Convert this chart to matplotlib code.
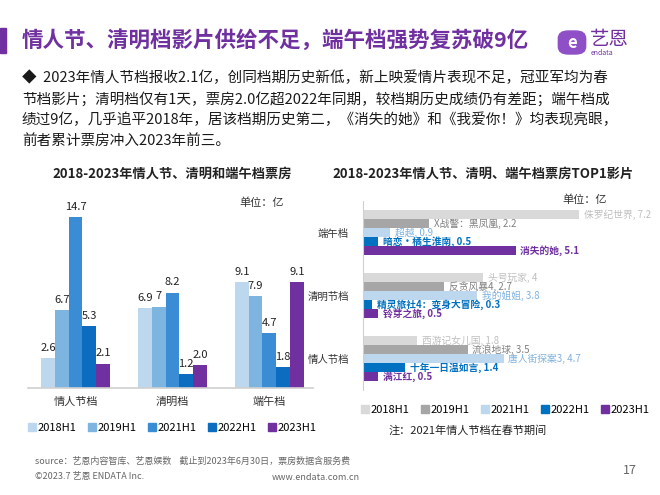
# 情人节、清明、端午档票房对比页
import matplotlib
matplotlib.use("Agg")
import matplotlib.pyplot as plt
from matplotlib.lines import Line2D
from matplotlib.patches import FancyBboxPatch, Rectangle
import numpy as np

plt.rcParams['font.family'] = ['Noto Sans CJK SC', 'DejaVu Sans']

# ---- data ----
years = ["2018H1", "2019H1", "2021H1", "2022H1", "2023H1"]
seasons = ["情人节档", "清明档", "端午档"]
box_2018 = [2.6, 6.9, 9.1]
box_2019 = [6.7, 7.0, 7.9]
box_2021 = [14.7, 8.2, 4.7]
box_2022 = [5.3, 1.2, 1.8]
box_2023 = [2.1, 2.0, 9.1]

top_seasons = ["情人节档", "清明节档", "端午档"]
films_2018 = ["西游记女儿国", "头号玩家", "侏罗纪世界"]
top_2018 = [1.8, 4, 7.2]
films_2019 = ["流浪地球", "反贪风暴4", "X战警：黑凤凰"]
top_2019 = [3.5, 2.7, 2.2]
films_2021 = ["唐人街探案3", "我的姐姐", "超越"]
top_2021 = [4.7, 3.8, 0.9]
films_2022 = ["十年一日温如言", "精灵旅社4：变身大冒险", "暗恋·橘生淮南"]
top_2022 = [1.4, 0.3, 0.5]
films_2023 = ["满江红", "铃芽之旅", "消失的她"]
top_2023 = [0.5, 0.5, 5.1]

PURPLE = "#7030A0"
left_colors = ["#BDD7EE", "#7DB4E0", "#3A8DD4", "#0B6CC0", PURPLE]
right_colors = ["#D9D9D9", "#A6A6A6", "#BDD7EE", "#0070C0", PURPLE]
right_text_colors = ["#BFBFBF", "#808080", "#7FB2E0", "#0070C0", PURPLE]


def fx(px):
    return px / 660


def fy(py):
    return 1 - py / 495


fig = plt.figure(figsize=(6.6, 4.95), dpi=100)

# ---- header ----
fig.patches.append(Rectangle((0, fy(53)), fx(6), 25 / 495, color=PURPLE,
                             transform=fig.transFigure))
fig.text(fx(22), fy(40), "情人节、清明档影片供给不足，端午档强势复苏破9亿",
         fontsize=15.5, fontweight="bold", color=PURPLE, va="center")

# logo
fig.patches.append(FancyBboxPatch((fx(561), fy(52)), fx(22), 19 / 495,
                                  boxstyle="round,pad=0.004,rounding_size=0.015",
                                  color="#8E4FC7", transform=fig.transFigure))
fig.text(fx(572), fy(42.5), "e", color="white", fontsize=12, fontweight="bold",
         ha="center", va="center")
fig.text(fx(590), fy(39), "艺恩", color=PURPLE, fontsize=14, va="center")
fig.text(fx(591), fy(53), "endata", color=PURPLE, fontsize=5, va="center")

bullet_lines = [
    "◆  2023年情人节档报收2.1亿，创同档期历史新低，新上映爱情片表现不足，冠亚军均为春",
    "节档影片；清明档仅有1天，票房2.0亿超2022年同期，较档期历史成绩仍有差距；端午档成",
    "绩过9亿，几乎追平2018年，居该档期历史第二，《消失的她》和《我爱你！》均表现亮眼，",
    "前者累计票房冲入2023年前三。",
]
for i, line in enumerate(bullet_lines):
    fig.text(fx(22), fy(78 + 21 * i), line, fontsize=10.5, va="center", color="#1a1a1a")

# ---- left chart: grouped columns ----
ax1 = fig.add_axes([fx(28), fy(388), 285 / 660, 186 / 495])
series = [box_2018, box_2019, box_2021, box_2022, box_2023]
x = np.arange(len(seasons))
w = 0.142
for i, vals in enumerate(series):
    pos = x + (i - 2) * w
    ax1.bar(pos, vals, w, color=left_colors[i], label=years[i])
    for p, v in zip(pos, vals):
        txt = "7" if v == 7 else f"{v:.1f}"
        ax1.text(p, v + 0.45, txt, ha="center", va="bottom", fontsize=8, color="#222222")
ax1.set_xlim(-0.49, 2.45)
ax1.set_ylim(0, 16)
ax1.set_yticks([])
ax1.set_xticks(x)
ax1.set_xticklabels(seasons, fontsize=8, color="#333333")
ax1.tick_params(axis="x", length=0, pad=6)
for s in ["top", "right", "left"]:
    ax1.spines[s].set_visible(False)
ax1.spines["bottom"].set_color("#D0D0D0")
ax1.spines["bottom"].set_linewidth(1.2)
handles = [Line2D([], [], marker="s", ls="", color=c, markersize=6) for c in left_colors]
fig.legend(handles, years, loc="center", bbox_to_anchor=(fx(172), fy(428)), ncol=5,
           frameon=False, fontsize=8, handletextpad=0.1, columnspacing=1.0,
           handlelength=0.8)
fig.text(fx(172), fy(174), "2018-2023年情人节、清明和端午档票房", fontsize=9.5,
         fontweight="bold", ha="center", va="center", color="#222222")
fig.text(fx(262), fy(203), "单位：亿", fontsize=8, ha="center", va="center", color="#333333")

# ---- right chart: top1 films ----
ax2 = fig.add_axes([fx(363), fy(390), 240 / 660, 189 / 495])
h = 0.143
film_names = [films_2018, films_2019, films_2021, films_2022, films_2023]
film_vals = [top_2018, top_2019, top_2021, top_2022, top_2023]
y = np.arange(len(top_seasons))
for i, (names, vals) in enumerate(zip(film_names, film_vals)):
    pos = y + (2 - i) * h
    ax2.barh(pos, vals, h, color=right_colors[i])
    bold = "bold" if i >= 3 else "normal"
    for p, v, n in zip(pos, vals, names):
        ax2.text(v + 0.15, p, f"{n}, {v:g}", va="center", ha="left", fontsize=7,
                 color=right_text_colors[i], fontweight=bold)
ax2.set_xlim(0, 8)
ax2.set_ylim(-0.5, 2.5)
ax2.set_xticks([])
ax2.set_yticks(y)
ax2.set_yticklabels(top_seasons, fontsize=7.5, color="#333333")
ax2.tick_params(axis="y", length=0, pad=10)
for s in ["top", "right", "bottom"]:
    ax2.spines[s].set_visible(False)
ax2.spines["left"].set_color("#D0D0D0")
handles2 = [Line2D([], [], marker="s", ls="", color=c, markersize=6) for c in right_colors]
fig.legend(handles2, years, loc="center", bbox_to_anchor=(fx(505), fy(410)), ncol=5,
           frameon=False, fontsize=8, handletextpad=0.1, columnspacing=1.0,
           handlelength=0.8)
fig.text(fx(468), fy(430), "注：2021年情人节档在春节期间", fontsize=8, ha="center",
         va="center", color="#222222")
fig.text(fx(483), fy(174), "2018-2023年情人节、清明、端午档票房TOP1影片", fontsize=9.5,
         fontweight="bold", ha="center", va="center", color="#222222")
fig.text(fx(585), fy(200), "单位：亿", fontsize=8, ha="center", va="center", color="#333333")

# ---- footer ----
fig.text(fx(35), fy(461), "source：艺恩内容智库、艺恩娱数    截止到2023年6月30日，票房数据含服务费",
         fontsize=6.5, color="#666666", va="center")
fig.text(fx(35), fy(477), "©2023.7 艺恩 ENDATA Inc.", fontsize=6.5, color="#666666", va="center")
fig.text(fx(272), fy(477), "www.endata.com.cn", fontsize=6.5, color="#666666", va="center")
fig.text(fx(630), fy(470), "17", fontsize=9, color="#666666", va="center", ha="center")

fig.savefig("out.png", dpi=100)
